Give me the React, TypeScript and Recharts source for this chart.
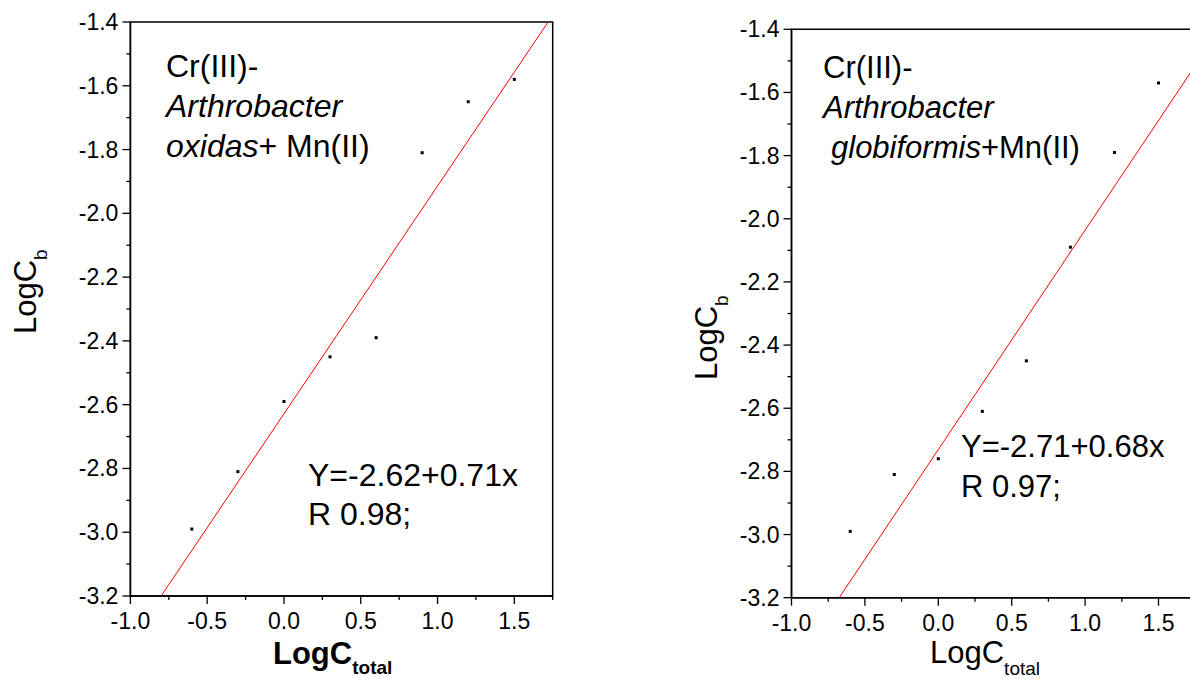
import React from 'react';
import { ScatterChart, Scatter, XAxis, YAxis, ReferenceLine, ReferenceArea } from 'recharts';

// ---- data ----
const xValues = [-0.6, -0.3, 0, 0.3, 0.6, 0.9, 1.2, 1.5];
const oxidasY = [-2.99, -2.81, -2.59, -2.45, -2.39, -1.81, -1.65, -1.58];
const globiformisY = [-2.99, -2.81, -2.76, -2.61, -2.45, -2.09, -1.79, -1.57];
const oxidasFitX = [-0.8, 1.72];
const oxidasFitY = [-3.2, -1.4];
const globiformisFitX = [-0.675, 1.75];
const globiformisFitY = [-3.2, -1.515];
const xMajorTicks = [-1.0, -0.5, 0.0, 0.5, 1.0, 1.5];
const xMinorTicks = [-0.75, -0.25, 0.25, 0.75, 1.25, 1.75];
const yMajorTicks = [-3.2, -3.0, -2.8, -2.6, -2.4, -2.2, -2.0, -1.8, -1.6, -1.4];
const yMinorTicks = [-3.1, -2.9, -2.7, -2.5, -2.3, -2.1, -1.9, -1.7, -1.5];
const xDomain = [-1, 1.75];
const yDomain = [-3.2, -1.4];

const oxidasData = xValues.map((x, i) => ({ x, y: oxidasY[i] }));
const globiformisData = xValues.map((x, i) => ({ x, y: globiformisY[i] }));
const oxidasFit = oxidasFitX.map((x, i) => ({ x, y: oxidasFitY[i] }));
const globiformisFit = globiformisFitX.map((x, i) => ({ x, y: globiformisFitY[i] }));
const xTicks = [...xMajorTicks, ...xMinorTicks].sort((a, b) => a - b);
const yTicks = [...yMajorTicks, ...yMinorTicks].sort((a, b) => a - b);

const FONT = "Arial, 'Liberation Sans', sans-serif";
const TICK_FS = 23;
const isIn = (arr: number[], v: number) => arr.some((t) => Math.abs(t - v) < 1e-6);

const XTick = (props: any) => {
  const { x, y, payload } = props;
  const v = payload.value as number;
  const major = isIn(xMajorTicks, v);
  return (
    <g>
      <line x1={x} x2={x} y1={y} y2={y + (major ? 8 : 4)} stroke="#000" strokeWidth={1.3} />
      {major && (
        <text x={x} y={y + 33} textAnchor="middle" fontSize={TICK_FS} fontFamily={FONT} fill="#000">
          {v.toFixed(1)}
        </text>
      )}
    </g>
  );
};

const YTick = (props: any) => {
  const { x, y, payload } = props;
  const v = payload.value as number;
  const major = isIn(yMajorTicks, v);
  return (
    <g>
      <line x1={x} x2={x - (major ? 8 : 4)} y1={y} y2={y} stroke="#000" strokeWidth={1.3} />
      {major && (
        <text x={x - 12} y={y + 8} textAnchor="end" fontSize={TICK_FS} fontFamily={FONT} fill="#000">
          {v.toFixed(1)}
        </text>
      )}
    </g>
  );
};

const Dot = (props: any) => (
  <rect x={props.cx - 1.5} y={props.cy - 1.5} width={3} height={3} fill="#000" />
);

type PanelProps = {
  data: { x: number; y: number }[];
  fit: { x: number; y: number }[];
  width: number;
  margin: { top: number; right: number; bottom: number; left: number };
};

const Panel = ({ data, fit, width, margin }: PanelProps) => (
  <ScatterChart width={width} height={679} margin={margin}>
    <XAxis
      type="number"
      dataKey="x"
      domain={xDomain}
      ticks={xTicks}
      interval={0}
      allowDataOverflow
      tickLine={false}
      tickSize={0}
      tickMargin={0}
      tick={<XTick />}
      height={50}
      axisLine={{ stroke: '#000', strokeWidth: 1.5 }}
    />
    <YAxis
      type="number"
      dataKey="y"
      domain={yDomain}
      ticks={yTicks}
      interval={0}
      allowDataOverflow
      tickLine={false}
      tickSize={0}
      tickMargin={0}
      tick={<YTick />}
      width={60}
      axisLine={{ stroke: '#000', strokeWidth: 1.5 }}
    />
    <ReferenceArea
      x1={xDomain[0]}
      x2={xDomain[1]}
      y1={yDomain[0]}
      y2={yDomain[1]}
      fill="none"
      stroke="#000"
      strokeWidth={1.5}
    />
    <ReferenceLine segment={[fit[0], fit[1]]} stroke="#ff0000" strokeWidth={1} />
    <Scatter data={data} shape={<Dot />} isAnimationActive={false} />
  </ScatterChart>
);

export default function App() {
  return (
    <div
      style={{
        position: 'absolute',
        left: 0,
        top: 0,
        width: 1190,
        height: 679,
        overflow: 'hidden',
        background: '#fff',
      }}
    >
      <div style={{ position: 'absolute', left: 0, top: 0 }}>
        <Panel
          data={oxidasData}
          fit={oxidasFit}
          width={600}
          margin={{ top: 22, right: 47.3, bottom: 33, left: 70.4 }}
        />
      </div>
      <div style={{ position: 'absolute', left: 600, top: 0 }}>
        <Panel
          data={globiformisData}
          fit={globiformisFit}
          width={620}
          margin={{ top: 29.3, right: 24.8, bottom: 31.3, left: 131.5 }}
        />
      </div>
      <svg
        width={1190}
        height={679}
        style={{ position: 'absolute', left: 0, top: 0, pointerEvents: 'none' }}
        fontFamily={FONT}
        fill="#000"
      >
        {/* left panel annotation */}
        <text x={166} y={77} fontSize={32}>Cr(III)-</text>
        <text x={166} y={117} fontSize={32} fontStyle="italic">Arthrobacter</text>
        <text x={166} y={157} fontSize={32}>
          <tspan fontStyle="italic">oxidas</tspan>+ Mn(II)
        </text>
        <text x={308} y={486} fontSize={32}>Y=-2.62+0.71x</text>
        <text x={308} y={525} fontSize={32}>R 0.98;</text>
        {/* left axis titles */}
        <text x={273} y={664} fontSize={31} fontWeight="bold">
          LogC<tspan fontSize={19} dy={10}>total</tspan>
        </text>
        <text transform="translate(36,334) rotate(-90)" fontSize={31}>
          LogC<tspan fontSize={19} dy={11}>b</tspan>
        </text>

        {/* right panel annotation */}
        <text x={823} y={78} fontSize={31}>Cr(III)-</text>
        <text x={823} y={118} fontSize={31} fontStyle="italic">Arthrobacter</text>
        <text x={831} y={158} fontSize={31}>
          <tspan fontStyle="italic">globiformis</tspan>+Mn(II)
        </text>
        <text x={961} y={457} fontSize={31}>Y=-2.71+0.68x</text>
        <text x={961} y={497} fontSize={31}>R 0.97;</text>
        {/* right axis titles */}
        <text x={930} y={663} fontSize={31}>
          LogC<tspan fontSize={19} dy={12}>total</tspan>
        </text>
        <text transform="translate(717,380) rotate(-90)" fontSize={31}>
          LogC<tspan fontSize={19} dy={11}>b</tspan>
        </text>
      </svg>
    </div>
  );
}
